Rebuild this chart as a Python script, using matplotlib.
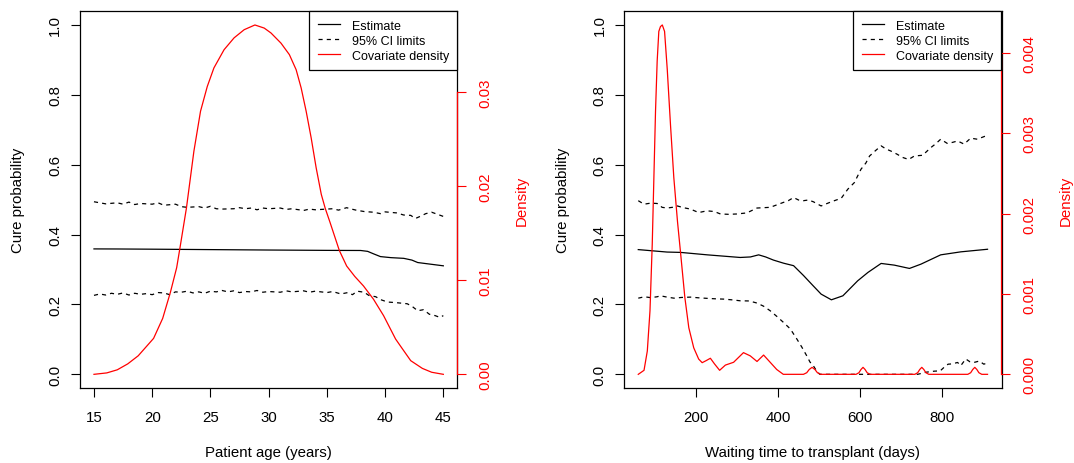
import matplotlib
matplotlib.use('Agg')
import matplotlib.pyplot as plt
from matplotlib.lines import Line2D

plt.rcParams['font.family'] = ['Liberation Sans', 'DejaVu Sans']

# ---------------- Left panel: patient age ----------------
age_est_x = [15, 17, 20, 25, 30, 35, 37.9, 38.5, 39.0, 39.6, 40.5, 41.6, 42.3, 42.8, 43.5, 45]
age_est = [0.359, 0.3588, 0.3582, 0.357, 0.3558, 0.3548, 0.3545, 0.352, 0.345, 0.337,
           0.334, 0.332, 0.327, 0.320, 0.317, 0.3106]

age_up_x = [15, 16, 17, 17.5, 18, 18.5, 19, 20, 20.5, 21, 22, 22.5, 23, 24, 24.5, 25, 25.5, 26,
            27, 27.5, 28, 28.5, 29, 29.5, 30, 31, 31.5, 32, 33, 33.5, 34, 35, 35.5, 36, 36.7,
            37, 37.5, 38.2, 39, 39.6, 40, 41, 41.6, 42.2, 42.6, 43, 43.5, 44, 44.5, 45]
age_up = [0.494, 0.488, 0.491, 0.487, 0.493, 0.486, 0.489, 0.487, 0.491, 0.484, 0.487, 0.480,
          0.478, 0.480, 0.476, 0.481, 0.474, 0.473, 0.474, 0.477, 0.474, 0.476, 0.471, 0.476,
          0.474, 0.476, 0.472, 0.474, 0.469, 0.473, 0.471, 0.473, 0.474, 0.470, 0.477, 0.474,
          0.470, 0.466, 0.464, 0.460, 0.465, 0.462, 0.456, 0.455, 0.446, 0.452, 0.460, 0.464,
          0.458, 0.452]

age_lo_x = [15, 15.5, 16, 16.5, 17, 17.5, 18, 18.5, 19, 19.5, 20, 20.5, 21, 21.5, 22, 22.5, 23,
            23.5, 24, 24.5, 25, 25.5, 26, 26.5, 27, 27.5, 28, 28.5, 29, 29.5, 30, 31, 31.5, 32,
            33, 33.5, 34, 35, 35.5, 36.2, 36.8, 37.2, 37.6, 38.2, 38.6, 39.2, 39.6, 40.2, 41,
            41.9, 42.3, 42.8, 43.3, 43.8, 44.3, 44.7, 45]
age_lo = [0.226, 0.230, 0.227, 0.232, 0.229, 0.233, 0.227, 0.232, 0.229, 0.231, 0.228, 0.234,
          0.233, 0.228, 0.236, 0.235, 0.238, 0.233, 0.236, 0.232, 0.238, 0.236, 0.240, 0.236,
          0.239, 0.234, 0.237, 0.236, 0.240, 0.235, 0.237, 0.235, 0.239, 0.236, 0.239, 0.235,
          0.238, 0.234, 0.237, 0.230, 0.234, 0.228, 0.238, 0.235, 0.226, 0.222, 0.214, 0.207,
          0.205, 0.202, 0.195, 0.182, 0.185, 0.172, 0.168, 0.163, 0.168]

age_dens_x = [15, 16.1, 17, 17.9, 18.8, 19.7, 20.12, 20.9, 21.56, 22.1, 22.37, 22.94, 23.58,
              24.15, 24.73, 25.3, 26.17, 27.03, 27.9, 28.82, 29.62, 30.2, 31.06, 31.78, 32.36,
              32.79, 33.22, 33.65, 34.08, 34.52, 34.86, 35.27, 36.07, 36.7, 37.4, 38.14, 39.0,
              39.87, 40.9, 41.4, 42.2, 43.2, 44.0, 45.0]
age_dens = [0.0, 0.00015, 0.00048, 0.00111, 0.00197, 0.00323, 0.00382, 0.00594, 0.0087,
            0.01132, 0.01332, 0.01766, 0.02369, 0.02794, 0.03057, 0.03254, 0.03447, 0.03573,
            0.0366, 0.0371, 0.03677, 0.03625, 0.03517, 0.03395, 0.03235, 0.03042, 0.02794,
            0.02512, 0.02193, 0.01911, 0.01762, 0.01614, 0.01315, 0.0115, 0.01039, 0.00939,
            0.00798, 0.00623, 0.00375, 0.00286, 0.00145, 0.00063, 0.00022, 0.0]

age_xticks = [15, 20, 25, 30, 35, 40, 45]
age_dticks = [0.00, 0.01, 0.02, 0.03]
age_dlabels = ['0.00', '0.01', '0.02', '0.03']

# ---------------- Right panel: waiting time ----------------
wt_est_x = [60, 100, 130, 163, 228, 308, 333, 353, 370, 389, 414, 438, 462, 486, 505, 530,
            558, 594, 619, 651, 683, 720, 748, 796, 845, 910]
wt_est = [0.357, 0.353, 0.350, 0.349, 0.342, 0.3345, 0.336, 0.342, 0.336, 0.327, 0.318,
          0.311, 0.283, 0.253, 0.2296, 0.2133, 0.2248, 0.2677, 0.2917, 0.3174, 0.3126,
          0.3031, 0.3154, 0.342, 0.3506, 0.358]

wt_up_x = [60, 74, 90, 106, 118, 130, 143, 155, 170, 187, 207, 227, 245, 260, 280, 300, 324,
           349, 365, 381, 397, 413, 425, 438, 450, 462, 474, 486, 505, 530, 554, 570, 586,
           602, 614, 623, 637, 651, 663, 675, 690, 703, 718, 732, 752, 772, 784, 796, 812,
           825, 837, 853, 869, 885, 896, 905, 910]
wt_up = [0.497, 0.487, 0.490, 0.489, 0.478, 0.476, 0.478, 0.482, 0.477, 0.473, 0.463, 0.468,
         0.466, 0.459, 0.458, 0.459, 0.462, 0.476, 0.477, 0.478, 0.485, 0.492, 0.497, 0.506,
         0.499, 0.497, 0.499, 0.494, 0.482, 0.494, 0.504, 0.530, 0.549, 0.587, 0.605, 0.625,
         0.640, 0.654, 0.645, 0.639, 0.630, 0.621, 0.615, 0.625, 0.627, 0.649, 0.660, 0.673,
         0.661, 0.664, 0.668, 0.659, 0.676, 0.673, 0.678, 0.682, 0.683]

wt_lo_x = [60, 75, 90, 106, 114, 130, 147, 165, 187, 207, 227, 250, 268, 290, 308, 330, 349,
           365, 381, 397, 413, 430, 446, 458, 470, 478, 486, 495, 502, 560, 620, 680, 740,
           760, 780, 795, 806, 814, 825, 837, 845, 857, 867, 877, 890, 901, 910]
wt_lo = [0.218, 0.222, 0.2195, 0.222, 0.2248, 0.221, 0.218, 0.220, 0.221, 0.219, 0.2175,
         0.216, 0.2153, 0.213, 0.2105, 0.210, 0.204, 0.195, 0.182, 0.166, 0.149, 0.130,
         0.101, 0.078, 0.053, 0.035, 0.0246, 0.008, 0.0, 0.0, 0.0, 0.0, 0.0, 0.006, 0.009,
         0.010, 0.022, 0.029, 0.030, 0.034, 0.025, 0.044, 0.036, 0.034, 0.038, 0.029, 0.033]

wt_dens_x = [60, 74, 82, 88.5, 94, 98, 102, 106, 110, 114, 118.5, 124, 130.5, 138.5, 146.5,
             155.5, 162.8, 173.3, 183, 195, 207, 215.5, 225, 235.5, 245.5, 258, 272, 292, 304,
             316, 332.5, 349, 365, 381, 397, 413, 462, 470, 476, 483, 490, 496, 504, 590, 597,
             602, 607, 612, 617, 624, 733, 740, 745, 750, 755, 760, 767, 862, 869, 874, 879,
             884, 889, 896, 910]
wt_dens = [0.0, 0.00005, 0.00029, 0.00079, 0.00162, 0.00245, 0.00328, 0.0039, 0.00427,
           0.00433, 0.00435, 0.00427, 0.0038, 0.0031, 0.00245, 0.0019, 0.00152, 0.00096,
           0.00058, 0.00033, 0.00019, 0.000145, 0.00017, 0.0002, 0.00013, 0.00005, 0.000115,
           0.00015, 0.00021, 0.00027, 0.00023, 0.00016, 0.00024, 0.00015, 0.00006, 0.0, 0.0,
           0.00002, 0.00006, 0.000087, 0.00006, 0.00002, 0.0, 0.0, 0.00002, 0.00006,
           0.000087, 0.00006, 0.00002, 0.0, 0.0, 0.00002, 0.00006, 0.000087, 0.00006,
           0.00002, 0.0, 0.0, 0.00002, 0.00006, 0.000087, 0.00006, 0.00002, 0.0, 0.0]

wt_xticks = [200, 400, 600, 800]
wt_dticks = [0.000, 0.001, 0.002, 0.003, 0.004]
wt_dlabels = ['0.000', '0.001', '0.002', '0.003', '0.004']

cure_yticks = [0.0, 0.2, 0.4, 0.6, 0.8, 1.0]
cure_ylabels = ['0.0', '0.2', '0.4', '0.6', '0.8', '1.0']
legend_labels = ['Estimate', '95% CI limits', 'Covariate density']

W, H = 1074, 464
fig = plt.figure(figsize=(W / 100, H / 100), dpi=100)
RED = '#FF0000'
FS = 10.8
LW = 0.9
DASH = (0, (3.3, 3.3))


def panel(px0, px1, py0, py1, ex, ey, ux, uy, lx, ly, dx, dy, xticks, dticks, dlabels, xlabel):
    ax = fig.add_axes([px0 / W, 1 - py1 / H, (px1 - px0) / W, (py1 - py0) / H])
    ax.plot(ex, ey, color='black', lw=LW)
    ax.plot(ux, uy, color='black', lw=LW, linestyle=DASH)
    ax.plot(lx, ly, color='black', lw=LW, linestyle=DASH)
    xmin, xmax = min(ex), max(ex)
    r = xmax - xmin
    ax.set_xlim(xmin - 0.04 * r, xmax + 0.04 * r)
    ax.set_ylim(-0.04, 1.04)
    ax.set_xticks(xticks)
    ax.set_xticklabels([str(t) for t in xticks])
    ax.set_yticks(cure_yticks)
    ax.set_yticklabels(cure_ylabels, rotation=90, va='center')
    ax.tick_params(axis='both', direction='out', length=6.5, width=0.8, labelsize=FS)
    ax.tick_params(axis='x', pad=9.0)
    ax.tick_params(axis='y', pad=6.3)
    for s in ax.spines.values():
        s.set_linewidth(LW)
        s.set_color('black')
    ax.set_xlabel(xlabel, fontsize=FS, va='center')
    ax.xaxis.set_label_coords(0.5, -0.1688)
    ax.set_ylabel('Cure probability', fontsize=FS, va='center')
    ax.yaxis.set_label_coords(-0.1635, 0.5)

    tw = ax.twinx()
    tw.plot(dx, dy, color=RED, lw=LW, solid_joinstyle='round')
    dmax = max(dy)
    tw.set_ylim(-0.04 * dmax, 1.04 * dmax)
    tw.set_yticks(dticks)
    tw.set_yticklabels(dlabels, rotation=90, va='center')
    tw.tick_params(axis='y', direction='out', length=6.5, width=0.8, labelsize=FS,
                   colors=RED, pad=8.5)
    for k in ['left', 'top', 'bottom']:
        tw.spines[k].set_visible(False)
    tw.spines['right'].set_color(RED)
    tw.spines['right'].set_linewidth(LW)
    tw.spines['right'].set_bounds(dticks[0], dticks[-1])
    tw.set_ylabel('Density', fontsize=FS, color=RED, va='center')
    tw.yaxis.set_label_coords(1.1707, 0.5)

    handles = [Line2D([], [], color='black', lw=LW),
               Line2D([], [], color='black', lw=LW, linestyle=DASH),
               Line2D([], [], color=RED, lw=LW)]
    leg = tw.legend(handles, legend_labels, loc='upper right', bbox_to_anchor=(1, 1),
                    borderaxespad=0, fontsize=9, fancybox=False, framealpha=1,
                    edgecolor='black', handlelength=1.8, handletextpad=0.9,
                    borderpad=0.68, labelspacing=0.25)
    leg.get_frame().set_linewidth(LW)
    return ax, tw


panel(80, 457.3, 12, 389.3, age_est_x, age_est, age_up_x, age_up, age_lo_x, age_lo,
      age_dens_x, age_dens, age_xticks, age_dticks, age_dlabels, 'Patient age (years)')
panel(624.3, 1001.5, 12, 389.3, wt_est_x, wt_est, wt_up_x, wt_up, wt_lo_x, wt_lo,
      wt_dens_x, wt_dens, wt_xticks, wt_dticks, wt_dlabels, 'Waiting time to transplant (days)')

fig.savefig('out.png', dpi=100)
